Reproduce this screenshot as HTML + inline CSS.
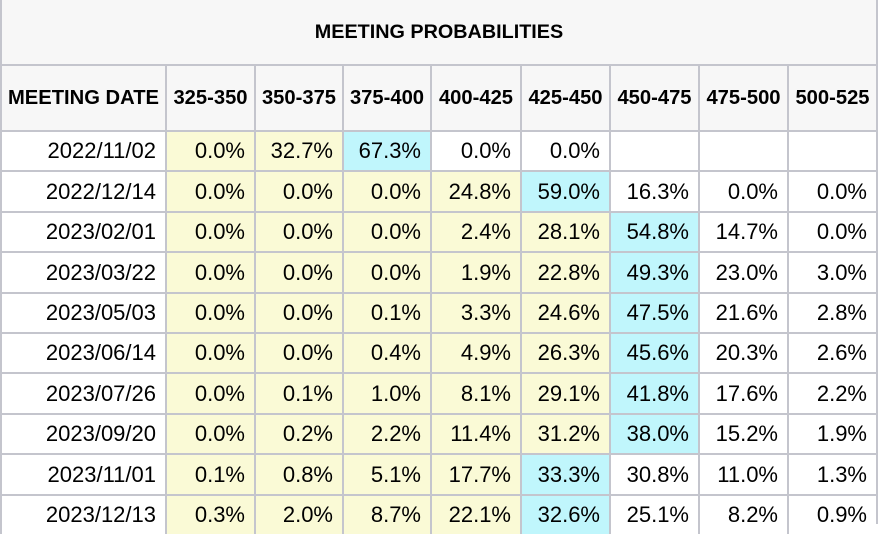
<!DOCTYPE html>
<html><head><meta charset="utf-8"><style>
*{margin:0;padding:0;box-sizing:border-box}
body{width:878px;height:524px;overflow:hidden;background:#fff;font-family:"Liberation Sans",Arial,sans-serif;position:relative;color:#000}
.r{position:absolute;left:0;width:878px}
.r div{position:absolute;top:0;height:100%;border-left:2px solid #c4c5cd;border-top:2px solid #c4c5cd;text-align:right;padding-right:9px;font-size:22px;display:flex;align-items:center;justify-content:flex-end}
.h div{background:#f7f7f7;font-weight:bold;font-size:20.2px;justify-content:center;padding:0}
.y{background:#fafad6}.c{background:#c0f6fc}
.a{left:0;width:165px}.b{left:165px;width:89px}.d{left:254px;width:88px}.e{left:342px;width:88px}.f{left:430px;width:90px}.g{left:520px;width:89px}.i{left:609px;width:89px}.j{left:698px;width:89px}.k{left:787px;width:89px}
#rb{position:absolute;left:876px;top:0;width:2px;height:524px;background:#c4c5cd}
</style></head><body>
<div class="r h" style="top:0;height:64px"><div style="left:0;width:876px;border-top:none;font-size:19.8px">MEETING PROBABILITIES</div></div>
<div class="r h" style="top:64px;height:66px"><div class="a">MEETING DATE</div><div class="b">325-350</div><div class="d">350-375</div><div class="e">375-400</div><div class="f">400-425</div><div class="g">425-450</div><div class="i">450-475</div><div class="j">475-500</div><div class="k">500-525</div></div>
<div class="r" style="top:130px;height:40px"><div class="a">2022/11/02</div><div class="b y">0.0%</div><div class="d y">32.7%</div><div class="e c">67.3%</div><div class="f">0.0%</div><div class="g">0.0%</div><div class="i"></div><div class="j"></div><div class="k"></div></div>
<div class="r" style="top:170px;height:41px"><div class="a">2022/12/14</div><div class="b y">0.0%</div><div class="d y">0.0%</div><div class="e y">0.0%</div><div class="f y">24.8%</div><div class="g c">59.0%</div><div class="i">16.3%</div><div class="j">0.0%</div><div class="k">0.0%</div></div>
<div class="r" style="top:211px;height:40px"><div class="a">2023/02/01</div><div class="b y">0.0%</div><div class="d y">0.0%</div><div class="e y">0.0%</div><div class="f y">2.4%</div><div class="g y">28.1%</div><div class="i c">54.8%</div><div class="j">14.7%</div><div class="k">0.0%</div></div>
<div class="r" style="top:251px;height:41px"><div class="a">2023/03/22</div><div class="b y">0.0%</div><div class="d y">0.0%</div><div class="e y">0.0%</div><div class="f y">1.9%</div><div class="g y">22.8%</div><div class="i c">49.3%</div><div class="j">23.0%</div><div class="k">3.0%</div></div>
<div class="r" style="top:292px;height:40px"><div class="a">2023/05/03</div><div class="b y">0.0%</div><div class="d y">0.0%</div><div class="e y">0.1%</div><div class="f y">3.3%</div><div class="g y">24.6%</div><div class="i c">47.5%</div><div class="j">21.6%</div><div class="k">2.8%</div></div>
<div class="r" style="top:332px;height:40px"><div class="a">2023/06/14</div><div class="b y">0.0%</div><div class="d y">0.0%</div><div class="e y">0.4%</div><div class="f y">4.9%</div><div class="g y">26.3%</div><div class="i c">45.6%</div><div class="j">20.3%</div><div class="k">2.6%</div></div>
<div class="r" style="top:372px;height:41px"><div class="a">2023/07/26</div><div class="b y">0.0%</div><div class="d y">0.1%</div><div class="e y">1.0%</div><div class="f y">8.1%</div><div class="g y">29.1%</div><div class="i c">41.8%</div><div class="j">17.6%</div><div class="k">2.2%</div></div>
<div class="r" style="top:413px;height:40px"><div class="a">2023/09/20</div><div class="b y">0.0%</div><div class="d y">0.2%</div><div class="e y">2.2%</div><div class="f y">11.4%</div><div class="g y">31.2%</div><div class="i c">38.0%</div><div class="j">15.2%</div><div class="k">1.9%</div></div>
<div class="r" style="top:453px;height:41px"><div class="a">2023/11/01</div><div class="b y">0.1%</div><div class="d y">0.8%</div><div class="e y">5.1%</div><div class="f y">17.7%</div><div class="g c">33.3%</div><div class="i">30.8%</div><div class="j">11.0%</div><div class="k">1.3%</div></div>
<div class="r" style="top:494px;height:40px"><div class="a">2023/12/13</div><div class="b y">0.3%</div><div class="d y">2.0%</div><div class="e y">8.7%</div><div class="f y">22.1%</div><div class="g c">32.6%</div><div class="i">25.1%</div><div class="j">8.2%</div><div class="k">0.9%</div></div>
<div id="rb"></div>
</body></html>
